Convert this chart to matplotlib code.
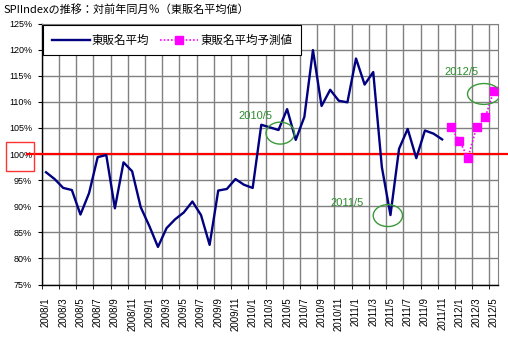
import numpy as np
import matplotlib
matplotlib.use("Agg")
import matplotlib.pyplot as plt
from matplotlib.lines import Line2D
from matplotlib.patches import Ellipse, Rectangle

# Monthly categories 2008/1 .. 2012/5
months = [f"{y}/{m}" for y in range(2008, 2013) for m in range(1, 13)][:53]

# Year-on-year index (%), actual: 2008/1 .. 2011/11
actual = [96.5, 95.2, 93.5, 93.1, 88.4, 92.5, 99.4, 99.8, 89.6, 98.4, 96.7, 89.8,
          86.2, 82.2, 85.8, 87.5, 88.8, 90.9, 88.3, 82.6, 93.0, 93.3, 95.2, 94.1,
          93.5, 105.6, 105.1, 104.6, 108.6, 102.7, 107.1, 119.9, 109.2, 112.3, 110.2, 109.9,
          118.3, 113.3, 115.7, 97.5, 88.3, 101.0, 104.8, 99.2, 104.5, 103.9, 102.8]
# Forecast: 2011/12 .. 2012/5
forecast = [105.1, 102.5, 99.3, 105.1, 107.0, 112.1]

yticks = [75, 80, 85, 90, 95, 100, 105, 110, 115, 120, 125]

W, H = 508, 339
CJK = ["Noto Sans CJK JP", "DejaVu Sans"]

fig = plt.figure(figsize=(W / 100, H / 100), dpi=100)
ax = fig.add_axes([41.7 / W, 1 - 284.5 / H, (498.1 - 41.7) / W, (284.5 - 23.5) / H])

x_act = np.arange(len(actual))
x_fc = np.arange(len(actual), len(actual) + len(forecast))

ax.set_xlim(-0.5, len(months) - 0.5)
ax.set_ylim(75, 125)

# grid: horizontal at each 5%, vertical between every second category
ax.set_yticks(yticks)
ax.set_yticklabels([f"{v}%" for v in yticks], family="Liberation Sans", fontsize=6.5)
ax.set_xticks(np.arange(0, len(months), 2))
ax.set_xticklabels(months[::2], rotation=90, family="Liberation Sans", fontsize=7)
ax.set_xticks(np.arange(-0.5, len(months), 2), minor=True)
ax.tick_params(axis="x", which="major", length=0, pad=9)
ax.tick_params(axis="x", which="minor", length=3, color="black", direction="out")
ax.tick_params(axis="y", length=3, direction="out", pad=4)
ax.grid(True, axis="x", which="minor", color="#808080", lw=1)
ax.grid(True, axis="y", which="major", color="#808080", lw=1)
ax.set_axisbelow(True)
for s in ("top", "right"):
    ax.spines[s].set_color("#808080")
for s in ("left", "bottom"):
    ax.spines[s].set_color("black")
    ax.spines[s].set_linewidth(1)

# 100% reference line, running past both sides of the plot area
ax.axhline(100, xmin=-0.032, xmax=1.02, color="#FF0000", lw=1.6, clip_on=False, zorder=3)

ax.plot(x_act, actual, color="#000080", lw=1.7, zorder=4)
ax.plot(x_fc, forecast, color="#FF00FF", lw=1.2, ls=(0, (1, 1.2)), zorder=4)
ax.plot(x_fc, forecast, ls="none", marker="s", ms=5.2, mfc="#FF00FF", mec="#FF00FF", zorder=5)

# highlighted months
green_txt = "#2E8B2E"
green_ell = "#3A9A3A"
ax.add_patch(Ellipse((27.2, 104.0), 3.3, 4.2, fill=False, ec=green_ell, lw=1, zorder=6))
ax.text(24.3, 107.3, "2010/5", color=green_txt, fontsize=8, ha="center", va="center",
        family="Liberation Sans", zorder=6)
ax.add_patch(Ellipse((39.7, 88.2), 3.4, 4.2, fill=False, ec=green_ell, lw=1, zorder=6))
ax.text(35.0, 90.6, "2011/5", color=green_txt, fontsize=8, ha="center", va="center",
        family="Liberation Sans", zorder=6)
ax.add_patch(Ellipse((50.85, 111.5), 3.8, 4.0, fill=False, ec=green_ell, lw=1, zorder=6))
ax.text(48.25, 115.7, "2012/5", color=green_txt, fontsize=8, ha="center", va="center",
        family="Liberation Sans", zorder=6)

# red box around the 100% label
fig.patches.append(Rectangle((6 / W, 1 - 171 / H), 28 / W, 29 / H, fill=False,
                             ec="#FF3333", lw=1, transform=fig.transFigure))

# legend
handles = [
    Line2D([], [], color="#000080", lw=1.7),
    Line2D([], [], color="#FF00FF", lw=1.2, ls=(0, (1, 1.2)), marker="s", ms=5.2,
           mfc="#FF00FF", mec="#FF00FF"),
]
leg = ax.legend(handles, ["東販名平均", "東販名平均予測値"], ncol=2,
                loc="upper left", bbox_to_anchor=(43 / W, 1 - 25 / H),
                bbox_transform=fig.transFigure, borderaxespad=0,
                prop={"family": CJK, "size": 8.3}, frameon=True, fancybox=False,
                framealpha=1, edgecolor="black", handlelength=3.3, handletextpad=0.15,
                columnspacing=1.0, borderpad=0.75, numpoints=1)
leg.get_frame().set_linewidth(0.8)
leg.set_zorder(10)

fig.text(4 / W, 1 - 10 / H, "SPIIndexの推移：対前年同月％（東販名平均値）",
         family=CJK, fontsize=8, va="center", ha="left")

fig.savefig("out.png", dpi=100)
